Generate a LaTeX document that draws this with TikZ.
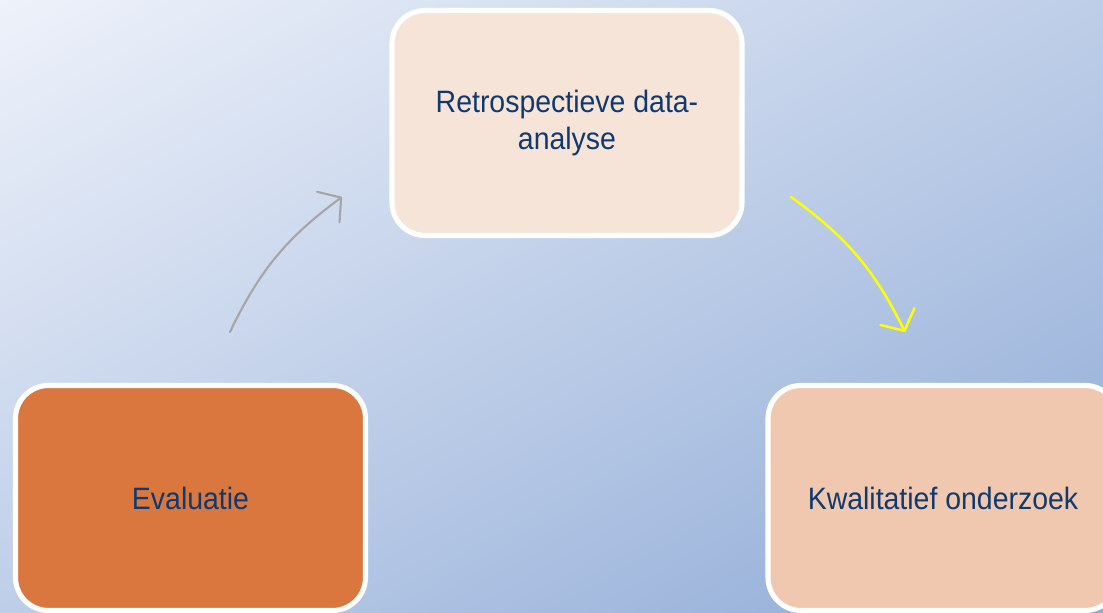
\documentclass[tikz,border=0pt]{standalone}
\usepackage{fontspec}
\setmainfont{Liberation Sans}[FakeStretch=0.92]
\usetikzlibrary{arrows.meta,positioning}
\definecolor{bgtop}{RGB}{238,242,250}
\definecolor{bgbottom}{RGB}{142,170,214}
\definecolor{stepnavy}{RGB}{16,58,110}
\definecolor{peachlight}{RGB}{246,228,216}
\definecolor{peachmid}{RGB}{239,200,175}
\definecolor{orangedark}{RGB}{217,119,63}
\definecolor{arrowgray}{RGB}{166,166,166}
\definecolor{arrowyellow}{RGB}{255,255,0}

\tikzset{
    stepbox/.style={draw=white, line width=1.45pt, rounded corners=0.33cm,
        minimum width=3.5cm, minimum height=2.25cm, inner sep=0pt,
        align=center, text=stepnavy,
        font=\fontsize{8.8pt}{10.5pt}\selectfont},
    cyclearrow/.style={line width=0.6pt, line cap=round,
        -{Straight Barb[length=1.6mm, width=3.8mm, round]}}
}

\begin{document}
\begin{tikzpicture}
    % Background
    \useasboundingbox (0, 0) rectangle (11.03, 6.13);
    \begin{scope}
        \clip (0, 0) rectangle (11.03, 6.13);
        \begin{scope}[transform canvas={shift={(5.515, 3.065)}, rotate=-60.94}]
            \shade[left color=bgtop, right color=bgbottom]
                (-5.36, -7) rectangle (5.36, 7);
        \end{scope}
    \end{scope}

    % Boxes
    \node[stepbox, fill=peachlight] (retro) at (5.67, 4.90) {Retrospectieve data-\\analyse};
    \node[stepbox, fill=orangedark] (eval) at (1.905, 1.15) {Evaluatie};
    \node[stepbox, fill=peachmid] (kwal) at (9.43, 1.15) {Kwalitatief onderzoek};

    % Arrow ends
    \coordinate (evalout) at (2.30, 2.81);
    \coordinate (retroin) at (3.42, 4.16);
    \coordinate (retroout) at (7.91, 4.16);
    \coordinate (kwalin) at (9.05, 2.81);

    % Arrows
    \draw[cyclearrow, draw=arrowgray] (evalout) to[bend left=14] (retroin);
    \draw[cyclearrow, draw=arrowyellow, line width=0.7pt] (retroout) to[bend left=14] (kwalin);

\end{tikzpicture}
\end{document}
